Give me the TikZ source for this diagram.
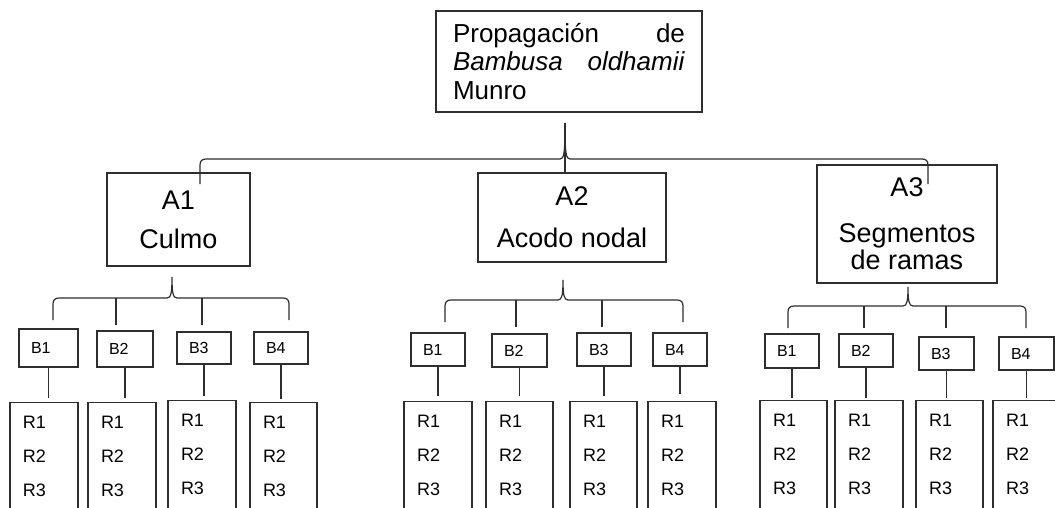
\documentclass[tikz,border=0pt]{standalone}
\usepackage{fontspec}
\setmainfont{Liberation Sans}
\setlength{\parindent}{0pt}
\newcommand\mybrace[6]{% L R T yH yEnd yTip
  \draw[ln] (#1,#5) -- (#1,#4+6) .. controls (#1,#4+2) and (#1+2,#4) .. (#1+6,#4)
    -- (#3-5,#4) .. controls (#3-1,#4) and (#3,#4-5) .. (#3,#6)
    .. controls (#3,#4-5) and (#3+1,#4) .. (#3+5,#4)
    -- (#2-6,#4) .. controls (#2-2,#4) and (#2,#4+2) .. (#2,#4+6) -- (#2,#5);}
\newcommand\bbox[6]{% name x1 x2 y1 y2 text
  \pgfmathsetmacro\bw{#3-#2}\pgfmathsetmacro\bh{#5-#4}\pgfmathsetmacro\btw{#3-#2-24}
  \node[bx, font=\fontsize{16}{18}\selectfont, inner xsep=12pt, minimum width=\bw pt,
        minimum height=\bh pt, text width=\btw pt, align=left]
        (#1) at ({(#2+#3)/2},{(#4+#5)/2}) {#6};}
\newcommand\rbox[4]{% name x1 x2 top
  \pgfmathsetmacro\rw{#3-#2}\pgfmathsetmacro\rtw{#3-#2-26}
  \node[bx, anchor=north, font=\fontsize{18}{34}\selectfont, inner xsep=13pt, inner ysep=0pt,
        minimum width=\rw pt, text width=\rtw pt, align=left, text height=25.5pt, text depth=140pt]
        (#1) at ({(#2+#3)/2},#4) {R1\\R2\\R3};}
\begin{document}
\begin{tikzpicture}[x=1pt,y=-1pt,
  ln/.style={draw=black!82, line width=1.2pt},
  bx/.style={ln, rectangle, inner sep=0pt, text=black},
  abox/.style={bx, font=\fontsize{27}{27}\selectfont, align=center}]
\useasboundingbox (0,0) rectangle (1055,508);
\clip (0,0) rectangle (1055,508);
\fill[white] (0,0) rectangle (1055,508);

% top
\node[bx, font=\fontsize{26}{28.5}\selectfont, inner xsep=17pt, minimum width=266pt,
      minimum height=101pt, text width=232pt, align=left] (top) at (569,61.5)
  {Propagación\hfill de\\\textit{Bambusa\hfill oldhamii}\\Munro};

% level A
\node[abox, minimum width=143pt, minimum height=93pt] (a1) at (178.5,219.5) {A1\\[12pt]Culmo};
\node[abox, minimum width=188pt, minimum height=89pt] (a2) at (572,217.5) {A2\\[15pt]Acodo nodal};
\node[abox, minimum width=180pt, minimum height=118pt] (a3) at (907,224) {A3\\[19pt]Segmentos\\de ramas};

\mybrace{200}{928}{565}{159}{184}{123}
\draw[ln] (565,123) -- (565,173);

% level B, group 1
\bbox{b11}{19}{78}{329}{367}{B1}
\bbox{b12}{97}{153}{331}{367}{B2}
\bbox{b13}{177}{231}{332}{364}{B3}
\bbox{b14}{254}{308}{332}{364}{B4}
% group 2
\bbox{b21}{411}{465}{333}{366}{B1}
\bbox{b22}{492}{547}{334}{367}{B2}
\bbox{b23}{577}{631}{333}{366}{B3}
\bbox{b24}{653}{707}{333}{366}{B4}
% group 3
\bbox{b31}{765}{819}{334}{368}{B1}
\bbox{b32}{839}{893}{334}{367}{B2}
\bbox{b33}{919}{974}{337}{370}{B3}
\bbox{b34}{999}{1054}{337}{370}{B4}

\mybrace{53}{289}{172}{298}{320}{277}
\draw[ln] (116,298) -- (116,325);
\draw[ln] (202,298) -- (202,325);
\mybrace{445}{683}{563}{300}{322}{280}
\draw[ln] (516,300) -- (516,327);
\draw[ln] (602,300) -- (602,327);
\mybrace{788}{1026}{908}{306}{328}{287}
\draw[ln] (864,306) -- (864,328);
\draw[ln] (946,306) -- (946,328);

% level R
\rbox{r11}{10}{78}{402}
\rbox{r12}{88}{156}{402}
\rbox{r13}{168}{236}{400}
\rbox{r14}{250}{317}{402}
\rbox{r21}{404}{472}{401}
\rbox{r22}{486}{553}{401}
\rbox{r23}{570}{637}{401}
\rbox{r24}{648}{716}{401}
\rbox{r31}{760}{827}{400}
\rbox{r32}{835}{903}{400}
\rbox{r33}{916}{983}{400}
\rbox{r34}{993}{1060}{400}

% B -> R
\draw[ln] (b11.south) -- ++(0,30);
\draw[ln] (b12.south) -- ++(0,30);
\draw[ln] (b13.south) -- ++(0,31);
\draw[ln] (b14.south) -- ++(0,34);
\draw[ln] (b21.south) -- ++(0,29);
\draw[ln] (b22.south) -- ++(0,28);
\draw[ln] (b23.south) -- ++(0,29);
\draw[ln] (b24.south) -- ++(0,27);
\draw[ln] (b31.south) -- ++(0,29);
\draw[ln] (b32.south) -- ++(0,30);
\draw[ln] (b33.south) -- ++(0,27);
\draw[ln] (b34.south) -- ++(0,27);
\end{tikzpicture}
\end{document}
